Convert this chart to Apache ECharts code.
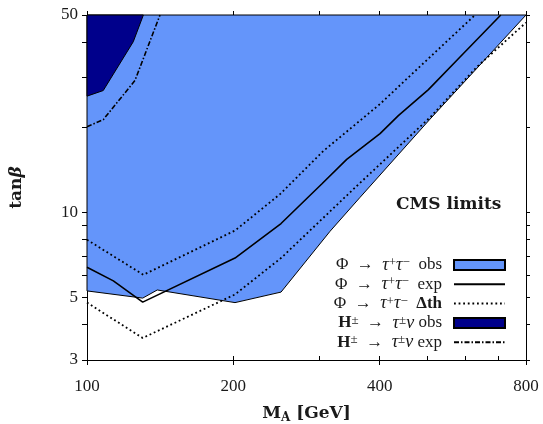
<!DOCTYPE html>
<html><head><meta charset="utf-8">
<script src="https://cdn.jsdelivr.net/npm/echarts@6/dist/echarts.min.js"></script>
<style>html,body{margin:0;padding:0;background:#fff}#c{width:543px;height:424px}</style>
</head><body><div id="c"></div>
<script>
// ---- tick values ----
const xMajorTicks = [100, 200, 400, 800];
const xMinorTicks = [300, 500, 600, 700];
const yMajorTicks = [3, 5, 10, 50];
const yMinorTicks = [4, 6, 7, 8, 9, 20, 30, 40];

// ---- Phi -> tau tau observed exclusion: lower boundary (region extends up to tanb = 50) ----
const phiObsMA   = [100, 130.2, 139.5, 201.6, 250.7, 316.2, 364.5, 507.9, 800];
const phiObsTanB = [5.27, 4.97, 5.31, 4.79, 5.22, 8.57, 11.3, 21.4, 50];

// ---- Phi -> tau tau expected ----
const phiExpMA   = [100, 113.3, 130.2, 201.6, 250.7, 304, 342.2, 400.7, 437, 503.9, 585.3, 710];
const phiExpTanB = [6.39, 5.72, 4.81, 6.89, 9.13, 12.6, 15.4, 19.0, 22.0, 27.2, 35.5, 50];

// ---- Phi -> tau tau theory band (upper / lower dotted) ----
const phiThUpMA   = [100, 130.6, 201.6, 249.5, 306.4, 400.7, 507.9, 628.5];
const phiThUpTanB = [8.0, 6.01, 8.62, 11.6, 16.5, 24.2, 35.5, 50];
const phiThLoMA   = [100, 130.2, 201.6, 250.7, 358.9, 507.9, 633.5, 800];
const phiThLoTanB = [4.79, 3.59, 5.12, 6.89, 12.4, 21.7, 32.7, 47];

// ---- H+- -> tau nu observed exclusion (upper-left corner) ----
const hObsMA   = [100, 108, 124.5, 130.6];
const hObsTanB = [25.8, 27.0, 40.2, 50];

// ---- H+- -> tau nu expected ----
const hExpMA   = [100, 108, 125.5, 141.3];
const hExpTanB = [20.1, 21.3, 29.3, 50];

const L = Math.log10;
function pts(xs, ys) { return xs.map((x, i) => [L(x), L(ys[i])]); }

const N1 = 'phiObs', N2 = 'phiExp', N3 = 'phiTh', N4 = 'hObs', N5 = 'hExp';
const legendText = {
  phiObs: '{n|Φ  →  }{i|τ}{s|+}{i|τ}{s|−}{n|  obs}{w| }',
  phiExp: '{n|Φ  →  }{i|τ}{s|+}{i|τ}{s|−}{n|  exp}{w| }',
  phiTh:  '{n|Φ  →  }{i|τ}{s|+}{i|τ}{s|−}{n|  }{bn|Δth}{w| }',
  hObs:   '{bn|H}{s|±}{n|  →  }{i|τ}{s|±}{i|ν}{n| obs}{w| }',
  hExp:   '{bn|H}{s|±}{n|  →  }{i|τ}{s|±}{i|ν}{n| exp}{w| }'
};

const blueColor = '#6495fa';
const navyColor = '#00008b';
const txt = '#1a1a1a';

const xmin = L(xMajorTicks[0]), xmax = L(xMajorTicks[xMajorTicks.length - 1]);
const ymin = L(yMajorTicks[0]), ymax = L(yMajorTicks[yMajorTicks.length - 1]);
const allX = xMajorTicks.concat(xMinorTicks).map(L);
const allY = yMajorTicks.concat(yMinorTicks).map(L);
const fmt = v => String(Math.round(Math.pow(10, v)));

const phiObsPoly = pts(phiObsMA, phiObsTanB).concat([[xmin, ymax]]);
const hObsPoly = [[xmin, ymax]].concat(pts(hObsMA, hObsTanB));

function polySeries(name, poly, color) {
  return {
    type: 'custom', name: name, xAxisIndex: 0, yAxisIndex: 0,
    itemStyle: { color: color, borderColor: '#000', borderWidth: 1 },
    data: poly, encode: { x: 0, y: 1 }, silent: true, animation: false, z: 1,
    renderItem: function (params, api) {
      if (params.dataIndex !== 0) return null;
      const p = poly.map(q => api.coord(q));
      return { type: 'polygon', shape: { points: p }, style: { fill: color, stroke: '#000', lineWidth: 1 } };
    }
  };
}
function lineSeries(name, xs, ys, ls) {
  return {
    type: 'line', name: name, xAxisIndex: 0, yAxisIndex: 0, data: pts(xs, ys),
    symbol: 'none', silent: true, animation: false, z: 3,
    itemStyle: { color: '#000' },
    lineStyle: Object.assign({ color: '#000' }, ls)
  };
}

const gridRect = { left: 87, right: 17, top: 15, bottom: 64, containLabel: false, outerBoundsMode: 'none' };
const tickFont = { fontFamily: 'Liberation Serif', fontSize: 17, color: txt };
const boldRich = {
  b: { fontFamily: 'DejaVu Serif', fontWeight: 'bold', fontSize: 17, color: txt, lineHeight: 20 },
  s: { fontFamily: 'DejaVu Serif', fontWeight: 'bold', fontSize: 12, color: txt, verticalAlign: 'bottom', lineHeight: 12 },
  g: { fontFamily: 'DejaVu Serif', fontWeight: 'bold', fontStyle: 'italic', fontSize: 17, color: txt, lineHeight: 20 }
};
const hidden = { opacity: 0 };

const option = {
  backgroundColor: '#fff',
  animation: false,
  title: {
    text: 'CMS limits', left: 391, top: 191,
    textStyle: { fontFamily: 'DejaVu Serif', fontWeight: 'bold', fontSize: 17, color: txt }
  },
  grid: [Object.assign({}, gridRect), Object.assign({}, gridRect)],
  xAxis: [
    { gridIndex: 0, type: 'value', position: 'bottom', min: xmin, max: xmax,
      axisLine: { show: true, onZero: false, lineStyle: { color: '#000', width: 1 } },
      axisTick: { show: true, inside: true, length: 4, customValues: allX, lineStyle: { color: '#000' } },
      axisLabel: Object.assign({ customValues: xMajorTicks.map(L), formatter: fmt, margin: 18 }, tickFont),
      splitLine: { show: false },
      name: '{b|M}{s|A}{b| [GeV]}', nameLocation: 'middle', nameGap: 44,
      nameTextStyle: { rich: boldRich } },
    { gridIndex: 0, type: 'value', position: 'top', min: xmin, max: xmax,
      axisLine: { show: true, onZero: false, lineStyle: { color: '#000', width: 1 } },
      axisTick: { show: true, inside: false, length: 4, customValues: allX, lineStyle: { color: '#000' } },
      axisLabel: { show: false }, splitLine: { show: false } },
    { gridIndex: 1, type: 'value', position: 'bottom', min: xmin, max: xmax,
      axisLine: { show: false, onZero: false },
      axisTick: { show: true, inside: false, length: 5, customValues: xMajorTicks.map(L), lineStyle: { color: '#000' } },
      axisLabel: { show: false }, splitLine: { show: false } }
  ],
  yAxis: [
    { gridIndex: 0, type: 'value', position: 'left', min: ymin, max: ymax,
      axisLine: { show: true, onZero: false, lineStyle: { color: '#000', width: 1 } },
      axisTick: { show: true, inside: false, length: 5, customValues: allY, lineStyle: { color: '#000' } },
      axisLabel: Object.assign({ customValues: yMajorTicks.map(L), formatter: fmt, margin: 9 }, tickFont),
      splitLine: { show: false },
      name: '{b|tan}{g|β}', nameLocation: 'middle', nameGap: 60, nameRotate: 90,
      nameTextStyle: { rich: boldRich } },
    { gridIndex: 0, type: 'value', position: 'right', min: ymin, max: ymax,
      axisLine: { show: true, onZero: false, lineStyle: { color: '#000', width: 1 } },
      axisTick: { show: true, inside: false, length: 4, customValues: allY, lineStyle: { color: '#000' } },
      axisLabel: { show: false }, splitLine: { show: false } },
    { gridIndex: 1, type: 'value', show: false, min: ymin, max: ymax }
  ],
  legend: {
    orient: 'vertical', right: 37, top: 256, align: 'right', padding: 0,
    itemWidth: 51, itemHeight: 10, itemGap: 1.3, selectedMode: false,
    data: [
      { name: N1, icon: 'rect' },
      { name: N2, itemStyle: hidden },
      { name: N3, itemStyle: hidden },
      { name: N4, icon: 'rect' },
      { name: N5, itemStyle: hidden }
    ],
    formatter: name => legendText[name],
    textStyle: {
      color: txt,
      rich: {
        n:  { fontFamily: 'Liberation Serif', fontSize: 17, color: txt, lineHeight: 18 },
        bn: { fontFamily: 'Liberation Serif', fontWeight: 'bold', fontSize: 17, color: txt, lineHeight: 18 },
        i:  { fontFamily: 'Liberation Serif', fontStyle: 'italic', fontSize: 18, color: txt, lineHeight: 18 },
        s:  { fontFamily: 'Liberation Serif', fontSize: 13, color: txt, verticalAlign: 'top', lineHeight: 12 },
        w:  { fontSize: 10, width: 7, lineHeight: 18 }
      }
    }
  },
  series: [
    polySeries(N1, phiObsPoly, blueColor),
    polySeries(N4, hObsPoly, navyColor),
    lineSeries(N2, phiExpMA, phiExpTanB, { width: 1.6, type: 'solid' }),
    lineSeries(N3, phiThUpMA, phiThUpTanB, { width: 1.8, type: [1.8, 2.8] }),
    lineSeries(N3, phiThLoMA, phiThLoTanB, { width: 1.8, type: [1.8, 2.8] }),
    lineSeries(N5, hExpMA, hExpTanB, { width: 1.6, type: [5, 2, 1.5, 2] })
  ]
};

const chart = echarts.init(document.getElementById('c'), null, { renderer: 'canvas', width: 543, height: 424 });
chart.setOption(option);
</script>
</body></html>
